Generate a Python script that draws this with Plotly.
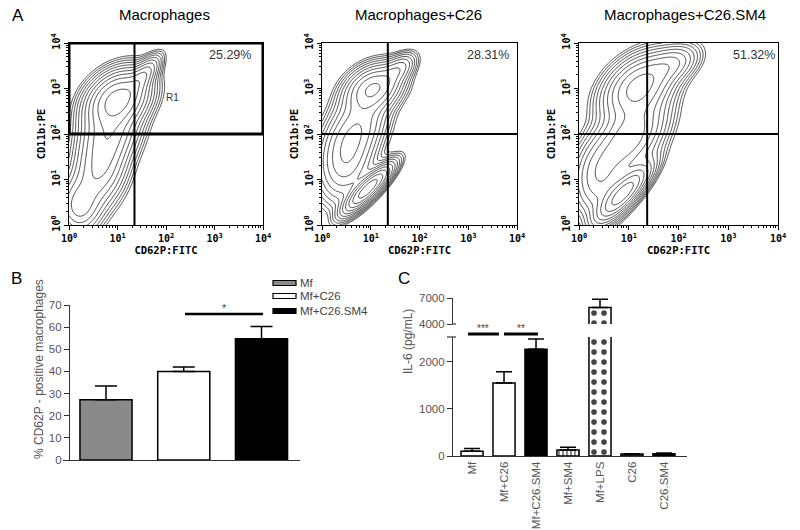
import numpy as np
import plotly.graph_objects as go

W, H = 800, 530
def PX(x): return x / W
def PY(y): return 1 - y / H

# ---------------- Panel A data (log10 units) ----------------
a_titles = ["Macrophages", "Macrophages+C26", "Macrophages+C26.SM4"]
a_pct = ["25.29%", "28.31%", "51.32%"]
a_gate_x = [1.35, 1.35, 1.37]
a_gate_y = [2.0, 2.0, 2.0]
a_tick_vals = [0, 1, 2, 3, 4]
a_tick_text = ["10<sup>0</sup>", "10<sup>1</sup>", "10<sup>2</sup>", "10<sup>3</sup>", "10<sup>4</sup>"]

# population components: centre, spread, tilt, height
a1_cx = [1.00, 1.55, 0.65, 0.20, 0.85]
a1_cy = [2.75, 3.30, 1.30, 0.40, 2.00]
a1_sx = [0.36, 0.20, 0.33, 0.25, 0.35]
a1_sy = [0.36, 0.25, 0.55, 0.35, 0.35]
a1_rho = [0.30, 0.70, 0.30, 0.0, 0.2]
a1_w = [1.0, 0.30, 0.45, 0.30, 0.3]

a2_cx = [1.05, 1.60, 0.95, 0.50, 0.80]
a2_cy = [3.00, 3.45, 0.80, 1.50, 2.20]
a2_sx = [0.33, 0.20, 0.28, 0.33, 0.33]
a2_sy = [0.30, 0.20, 0.30, 0.55, 0.40]
a2_rho = [0.30, 0.50, 0.85, 0.20, 0.3]
a2_w = [0.60, 0.20, 1.0, 0.40, 0.25]

a3_cx = [1.20, 1.90, 0.90, 1.00, 0.40]
a3_cy = [3.05, 3.55, 0.70, 1.90, 1.00]
a3_sx = [0.40, 0.30, 0.30, 0.42, 0.30]
a3_sy = [0.40, 0.25, 0.35, 0.50, 0.50]
a3_rho = [0.40, 0.40, 0.80, 0.50, 0.1]
a3_w = [0.70, 0.25, 1.0, 0.55, 0.35]

# ---------------- Panel B data ----------------
b_cats = ["Mf", "Mf+C26", "Mf+C26.SM4"]
b_vals = [27.2, 40.0, 54.8]
b_err = [6.2, 2.0, 5.5]
b_colors = ["#8a8a8a", "white", "black"]

# ---------------- Panel C data ----------------
c_cats = ["Mf", "Mf+C26", "Mf+C26.SM4", "Mf+SM4", "Mf+LPS", "C26", "C26.SM4"]
c_vals = [100, 1550, 2270, 125, 5900, 40, 50]
c_err = [60, 240, 220, 60, 950, 10, 15]
c_colors = ["white", "white", "black", "white", "white", "#555555", "black"]
c_patterns = ["", "", "", "|", ".", "", ""]

fig = go.Figure()

g = np.linspace(0, 4, 201)
GX, GY = np.meshgrid(g, g)

def density(cx, cy, sx, sy, rho, w):
    tot = np.zeros_like(GX)
    for i in range(len(cx)):
        dx = (GX - cx[i]) / sx[i]
        dy = (GY - cy[i]) / sy[i]
        r = rho[i]
        tot += w[i] * np.exp(-0.5 / (1 - r * r) * (dx * dx + dy * dy - 2 * r * dx * dy))
    return np.log10(tot / tot.max())

blobs = [
    (a1_cx, a1_cy, a1_sx, a1_sy, a1_rho, a1_w),
    (a2_cx, a2_cy, a2_sx, a2_sy, a2_rho, a2_w),
    (a3_cx, a3_cy, a3_sx, a3_sy, a3_rho, a3_w),
]
a_xdom = [(69, 263), (322, 517), (579, 778)]
a_ydom = (43, 225)
axn = ["", "2", "3"]

minor_vals = [float(np.log10(k) + d) for d in range(4) for k in range(2, 10)]
mono = "DejaVu Sans Mono"
sans = "Liberation Sans"

for i in range(3):
    z = density(*blobs[i])
    xr = "x" + axn[i]
    yr = "y" + axn[i]
    fig.add_trace(go.Contour(
        x=g, y=g, z=z, xaxis=xr, yaxis=yr,
        contours=dict(coloring="lines", start=-1.6, end=-0.1, size=0.15),
        colorscale=[[0, "black"], [1, "black"]], line=dict(width=0.7),
        showscale=False, hoverinfo="skip"))
    lw = 2.0
    fig.add_trace(go.Scatter(x=[a_gate_x[i], a_gate_x[i]], y=[0, 4], mode="lines",
                             line=dict(color="black", width=lw), xaxis=xr, yaxis=yr,
                             showlegend=False, hoverinfo="skip"))
    fig.add_trace(go.Scatter(x=[0, 4], y=[a_gate_y[i], a_gate_y[i]], mode="lines",
                             line=dict(color="black", width=lw), xaxis=xr, yaxis=yr,
                             showlegend=False, hoverinfo="skip"))
    if i == 0:
        fig.add_trace(go.Scatter(x=[0, 4, 4, 0, 0], y=[a_gate_y[0], a_gate_y[0], 4, 4, a_gate_y[0]],
                                 mode="lines", line=dict(color="black", width=3.0),
                                 xaxis=xr, yaxis=yr, showlegend=False, hoverinfo="skip"))
    xa = dict(domain=[PX(a_xdom[i][0]), PX(a_xdom[i][1])], range=[0, 4], anchor=yr,
              automargin=False,
              showline=True, mirror=True, linecolor="black", linewidth=1,
              ticks="outside", ticklen=4, tickcolor="black",
              tickmode="array", tickvals=a_tick_vals, ticktext=a_tick_text,
              tickfont=dict(family=mono, size=10, color="black", weight="bold"),
              minor=dict(tickvals=minor_vals, ticks="outside", ticklen=2, tickcolor="black"),
              showgrid=False, zeroline=False,
              title=dict(text="CD62P:FITC", standoff=1,
                         font=dict(family=mono, size=10.5, color="black", weight="bold")))
    ya = dict(domain=[PY(a_ydom[1]), PY(a_ydom[0])], range=[0, 4], anchor=xr,
              automargin=False,
              showline=True, mirror=True, linecolor="black", linewidth=1,
              ticks="outside", ticklen=4, tickcolor="black", tickangle=-90,
              tickmode="array", tickvals=a_tick_vals, ticktext=a_tick_text,
              tickfont=dict(family=mono, size=10, color="black", weight="bold"),
              minor=dict(tickvals=minor_vals, ticks="outside", ticklen=2, tickcolor="black"),
              showgrid=False, zeroline=False,
              title=dict(text="CD11b:PE", standoff=2,
                         font=dict(family=mono, size=10.5, color="black", weight="bold")))
    fig.layout["xaxis" + axn[i]] = xa
    fig.layout["yaxis" + axn[i]] = ya

# ---------------- Panel B ----------------
fig.add_trace(go.Bar(
    x=b_cats, y=b_vals, xaxis="x4", yaxis="y4", width=0.67,
    marker=dict(color=b_colors, line=dict(color="black", width=1.5)),
    error_y=dict(type="data", symmetric=False, array=b_err, arrayminus=[0] * 3,
                 color="black", thickness=1.5, width=11),
    showlegend=False, hoverinfo="skip"))

fig.layout.xaxis4 = dict(domain=[PX(63), PX(300)], range=[-0.553, 2.495], anchor="y4",
                         automargin=False,
                         showline=True, linecolor="#333", linewidth=1.2, ticks="",
                         showticklabels=False, showgrid=False, zeroline=False)
fig.layout.yaxis4 = dict(domain=[PY(460), PY(305)], range=[0, 70], dtick=10,
                         anchor="free", position=PX(69), overlaying=None,
                         automargin=False,
                         showline=True, linecolor="#333", linewidth=1.2, ticks="outside",
                         ticklen=5, tickcolor="#333",
                         tickfont=dict(family=sans, size=11.5, color="#555"),
                         showgrid=False, zeroline=False)

# ---------------- Panel C ----------------
for xr, yr in (("x5", "y5"), ("x6", "y6")):
    fig.add_trace(go.Bar(
        x=c_cats, y=c_vals, xaxis=xr, yaxis=yr, width=0.69,
        marker=dict(color=c_colors, line=dict(color="black", width=1.5),
                    pattern=dict(shape=c_patterns, fgcolor="black", fgopacity=1,
                                 fillmode="overlay", size=[8, 8, 8, 4, 10, 8, 8],
                                 solidity=[0.3, 0.3, 0.3, 0.3, 0.25, 0.3, 0.3])),
        error_y=dict(type="data", symmetric=False, array=c_err, arrayminus=[0] * 7,
                     color="black", thickness=1.5, width=8),
        showlegend=False, hoverinfo="skip"))

fig.layout.xaxis5 = dict(domain=[PX(449), PX(687)], range=[-0.72, 6.72], type="category",
                         anchor="y5", automargin=False,
                         showline=True, linecolor="#333", linewidth=1.2,
                         ticks="", tickangle=-90,
                         tickfont=dict(family=sans, size=11.5, color="#555"),
                         showgrid=False, zeroline=False)
fig.layout.yaxis5 = dict(domain=[PY(456), PY(337)], range=[0, 2530], tickvals=[0, 1000, 2000],
                         anchor="free", position=PX(452), automargin=False,
                         showline=True, linecolor="#333", linewidth=1.2,
                         ticks="outside", ticklen=5, tickcolor="#333",
                         tickfont=dict(family=sans, size=11.5, color="#555"),
                         showgrid=False, zeroline=False)
fig.layout.xaxis6 = dict(domain=[PX(449), PX(687)], matches="x5", anchor="y6", visible=False,
                         automargin=False)
fig.layout.yaxis6 = dict(domain=[PY(324), PY(298)], range=[4000, 7000], tickvals=[4000, 7000],
                         anchor="free", position=PX(452), automargin=False,
                         showline=True, linecolor="#333", linewidth=1.2,
                         ticks="outside", ticklen=5, tickcolor="#333",
                         tickfont=dict(family=sans, size=11.5, color="#555"),
                         showgrid=False, zeroline=False)

# ---------------- annotations & decorations ----------------
ann = []
def T(text, x, y, size, color="black", angle=0, xanchor="center", xref="paper", yref="paper",
      family=sans):
    ann.append(dict(text=text, x=x, y=y, xref=xref, yref=yref, showarrow=False,
                    xanchor=xanchor, yanchor="middle", textangle=angle,
                    font=dict(family=family, size=size, color=color)))

T("A", PX(18), PY(16), 17)
T("B", PX(16), PY(278), 17)
T("C", PX(404), PY(278), 17)
for i, cxp in enumerate([164, 418, 685]):
    T(a_titles[i], PX(cxp), PY(15), 15)
for i, xpos in enumerate([3.32, 3.40, 3.52]):
    T(a_pct[i], xpos, 3.74, 12.5, "#333", xref="x" + axn[i], yref="y" + axn[i])
T("R1", 2.14, 2.81, 10, "#333", xref="x", yref="y")

# Panel B titles / legend / significance
T("% CD62P - positive macrophages", PX(39), PY(369), 12, "#555", angle=-90)
shapes = []
leg_y = [283, 296, 311]
for k in range(3):
    shapes.append(dict(type="rect", xref="paper", yref="paper",
                       x0=PX(273), x1=PX(296), y0=PY(leg_y[k] + 2.5), y1=PY(leg_y[k] - 2.5),
                       line=dict(color="black", width=1.2), fillcolor=b_colors[k]))
    T(b_cats[k], PX(298), PY(leg_y[k]), 11.5, "#444", xanchor="left")
shapes.append(dict(type="line", xref="x4", yref="y4", x0=1.016, x1=2.02, y0=65.9, y1=65.9,
                   line=dict(color="black", width=2.5)))
T("*", 1.52, 68.5, 11, "#444", xref="x4", yref="y4")

# Panel C
T("IL-6 (pg/mL)", PX(408), PY(342), 12, "#555", angle=-90)
for x0, x1, txt in ((-0.125, 0.84, "***"), (1.0, 2.06, "**")):
    shapes.append(dict(type="line", xref="x5", yref="paper", x0=x0, x1=x1,
                       y0=PY(334), y1=PY(334), line=dict(color="black", width=3)))
    T(txt, (x0 + x1) / 2, PY(328), 10, "#444", xref="x5")
# axis-break marks
shapes.append(dict(type="line", xref="paper", yref="paper", x0=PX(447), x1=PX(456),
                   y0=PY(337), y1=PY(337), line=dict(color="#333", width=1.2)))
shapes.append(dict(type="line", xref="paper", yref="paper", x0=PX(452), x1=PX(456),
                   y0=PY(324), y1=PY(324), line=dict(color="#333", width=1.2)))

fig.update_layout(template="none", width=W, height=H, margin=dict(l=0, r=0, t=0, b=0),
                  plot_bgcolor="white", paper_bgcolor="white",
                  annotations=ann, shapes=shapes, showlegend=False, bargap=0.3)

fig.write_html("out.html", config={"displayModeBar": False},
               post_script="document.body.style.margin='0px';")
